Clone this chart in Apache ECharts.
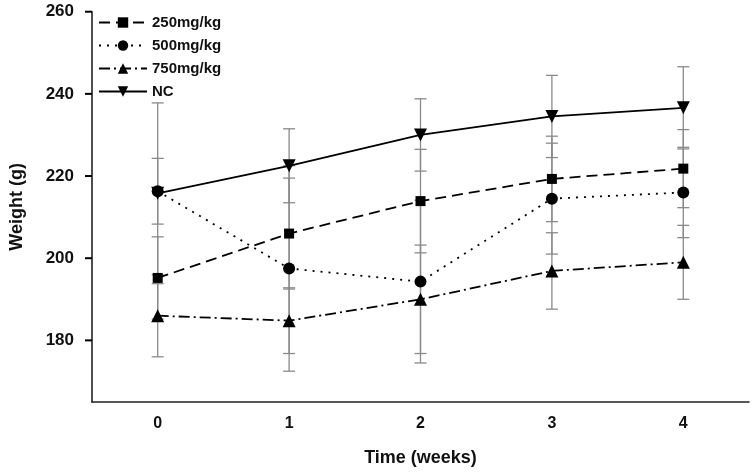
<!DOCTYPE html>
<html>
<head>
<meta charset="utf-8">
<script src="https://cdn.jsdelivr.net/npm/echarts@6/dist/echarts.min.js"></script>
<style>html,body{margin:0;padding:0;background:#fff}#c{width:755px;height:472px}</style>
</head>
<body>
<div id="c"></div>
<script>
const categories = ['0', '1', '2', '3', '4'];
const yTicks = [180, 200, 220, 240, 260];
const seriesNames = ['250mg/kg', '500mg/kg', '750mg/kg', 'NC'];
const mean250 = [195.2, 206.0, 213.9, 219.3, 221.8];
const mean500 = [216.3, 197.5, 194.3, 214.5, 216.0];
const mean750 = [186.0, 184.8, 190.0, 196.9, 199.0];
const meanNC  = [215.8, 222.5, 230.0, 234.5, 236.6];
const sd250 = [10, 13.5, 12.6, 10.4, 9.5];
const sd500 = [8, 25, 19.8, 13.5, 11];
const sd750 = [10, 8, 13.2, 9.3, 9];
const sdNC  = [22, 9, 8.8, 10, 10];

const means = [mean250, mean500, mean750, meanNC];
const sds = [sd250, sd500, sd750, sdNC];
const symbols = ['rect', 'circle', 'triangle', 'triangle'];
const symbolSizes = [10, 12, 13, 13];
const rotates = [0, 0, 0, 180];
const dashes = [[11, 6], [2, 6], [11, 4, 2, 4], 'solid'];

const errData = [];
means.forEach((m, s) => m.forEach((v, i) => errData.push([i, v - sds[s][i], v + sds[s][i]])));

const font = 'Liberation Sans, Arial, sans-serif';
const chart = echarts.init(document.getElementById('c'));

const series = seriesNames.map((name, s) => ({
  name: name,
  type: 'line',
  data: means[s],
  symbol: symbols[s],
  symbolSize: symbolSizes[s],
  symbolRotate: rotates[s],
  showAllSymbol: true,
  z: 3,
  itemStyle: { color: '#000' },
  lineStyle: { color: '#000', width: 1.8, type: dashes[s] },
  emphasis: { disabled: true },
  animation: false
}));

series.push({
  type: 'custom',
  name: 'err',
  z: 1,
  data: errData,
  animation: false,
  renderItem: function (params, api) {
    const x = api.value(0);
    const lo = api.coord([x, api.value(1)]);
    const hi = api.coord([x, api.value(2)]);
    const w = 6;
    const st = { stroke: '#8a8a8a', lineWidth: 1.3 };
    return {
      type: 'group',
      children: [
        { type: 'line', shape: { x1: lo[0], y1: lo[1], x2: hi[0], y2: hi[1] }, style: st },
        { type: 'line', shape: { x1: lo[0] - w, y1: lo[1], x2: lo[0] + w, y2: lo[1] }, style: st },
        { type: 'line', shape: { x1: hi[0] - w, y1: hi[1], x2: hi[0] + w, y2: hi[1] }, style: st }
      ]
    };
  }
});

// y-axis tick marks at the labelled values
series.push({
  type: 'custom',
  name: 'yticks',
  z: 4,
  clip: false,
  data: yTicks.map(v => [0, v]),
  animation: false,
  silent: true,
  renderItem: function (params, api) {
    const p = api.coord([0, api.value(1)]);
    const x0 = params.coordSys.x;
    return {
      type: 'line',
      shape: { x1: x0 - 7, y1: p[1], x2: x0, y2: p[1] },
      style: { stroke: '#000', lineWidth: 2 }
    };
  }
});

chart.setOption({
  animation: false,
  backgroundColor: '#fff',
  grid: { left: 88, right: 6, top: 11.7, bottom: 68.7, containLabel: false },
  legend: {
    data: seriesNames,
    orient: 'vertical',
    left: 93,
    top: 10,
    itemWidth: 48,
    itemHeight: 13,
    itemGap: 8,
    textStyle: { fontFamily: font, fontWeight: 'bold', fontSize: 15, color: '#111' },
    selectedMode: false
  },
  xAxis: {
    type: 'category',
    data: categories,
    boundaryGap: true,
    name: 'Time (weeks)',
    nameLocation: 'middle',
    nameGap: 47,
    nameTextStyle: { fontFamily: font, fontWeight: 'bold', fontSize: 18, color: '#111' },
    axisLine: { lineStyle: { color: '#222', width: 1.6 } },
    axisTick: { alignWithLabel: true, length: 6, lineStyle: { color: '#222', width: 1.6 } },
    axisLabel: { fontFamily: font, fontWeight: 'bold', fontSize: 16, color: '#111', margin: 14 },
    splitLine: { show: false }
  },
  yAxis: {
    type: 'value',
    min: 165,
    max: 260,
    name: 'Weight (g)',
    nameLocation: 'middle',
    nameGap: 66,
    nameTextStyle: { fontFamily: font, fontWeight: 'bold', fontSize: 18, color: '#111' },
    axisLine: { show: true, lineStyle: { color: '#222', width: 1.6 } },
    axisTick: { show: false },
    axisLabel: { fontFamily: font, fontWeight: 'bold', fontSize: 17, color: '#111', margin: 18, customValues: yTicks },
    splitLine: { show: false }
  },
  series: series
});
</script>
</body>
</html>
